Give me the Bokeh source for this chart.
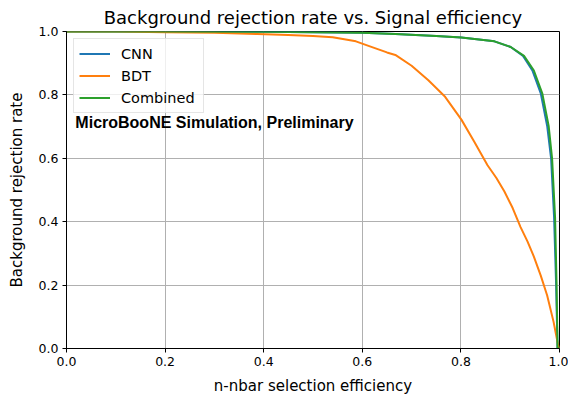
from bokeh.plotting import figure
from bokeh.models import FixedTicker, PrintfTickFormatter, Legend, LegendItem, Label, Range1d
from bokeh.embed import file_html
from bokeh.resources import INLINE

# --- data ---
bdt_x = [0.0, 0.1, 0.2, 0.3, 0.387, 0.45, 0.5, 0.54, 0.587, 0.614, 0.65, 0.667, 0.70, 0.734,
         0.768, 0.801, 0.828, 0.854, 0.872, 0.888, 0.905, 0.921, 0.935, 0.948, 0.962,
         0.975, 0.988, 0.997, 1.0]
bdt_y = [1.0, 1.0, 0.998, 0.996, 0.992, 0.989, 0.986, 0.982, 0.969, 0.954, 0.934, 0.926, 0.892,
         0.846, 0.794, 0.722, 0.650, 0.578, 0.538, 0.496, 0.443, 0.383, 0.338, 0.290, 0.230,
         0.167, 0.084, 0.012, 0.0]

comb_x = [0.0, 0.2, 0.4, 0.5, 0.6, 0.667, 0.75, 0.801, 0.868, 0.901, 0.928, 0.948, 0.965,
          0.978, 0.985, 0.991, 0.994, 0.996, 1.0]
comb_y = [1.0, 1.0, 0.999, 0.998, 0.996, 0.992, 0.986, 0.981, 0.969, 0.951, 0.923, 0.877, 0.805,
          0.702, 0.599, 0.414, 0.208, 0.002, 0.0]

cnn_x = [0.0, 0.2, 0.4, 0.5, 0.6, 0.667, 0.75, 0.801, 0.868, 0.901, 0.926, 0.945, 0.962,
         0.975, 0.983, 0.989, 0.993, 0.996, 1.0]
cnn_y = [1.0, 1.0, 0.999, 0.998, 0.996, 0.992, 0.986, 0.981, 0.969, 0.951, 0.923, 0.877, 0.805,
         0.702, 0.599, 0.414, 0.208, 0.002, 0.0]

ticks = [0.0, 0.2, 0.4, 0.6, 0.8, 1.0]
labels = ["CNN", "BDT", "Combined"]
colors = ["#1f77b4", "#ff7f0e", "#2ca02c"]

p = figure(width=568, height=397, output_backend="svg", toolbar_location=None,
           x_range=Range1d(0, 1), y_range=Range1d(0, 1),
           title="Background rejection rate vs. Signal efficiency",
           min_border_left=66, min_border_right=9, min_border_top=30, min_border_bottom=47)

p.title.align = "center"
p.title.text_font = "DejaVu Sans"
p.title.text_font_size = "18px"
p.title.text_font_style = "normal"
p.title.text_color = "black"
p.title.standoff = 8

p.outline_line_color = "black"
p.outline_line_width = 1
p.background_fill_color = "white"

for ax in (p.xaxis, p.yaxis):
    ax.ticker = FixedTicker(ticks=ticks)
    ax.formatter = PrintfTickFormatter(format="%.1f")
    ax.major_label_text_font = "DejaVu Sans"
    ax.major_label_text_font_size = "12.5px"
    ax.major_label_text_color = "black"
    ax.axis_label_text_font = "DejaVu Sans"
    ax.axis_label_text_font_size = "15px"
    ax.axis_label_text_font_style = "normal"
    ax.axis_label_text_color = "black"
    ax.minor_tick_line_color = None
    ax.major_tick_out = 4
    ax.major_tick_in = 0
    ax.axis_line_color = "black"
    ax.major_tick_line_color = "black"

p.xaxis.axis_label = "n-nbar selection efficiency"
p.yaxis.axis_label = "Background rejection rate"
p.xaxis.major_label_standoff = 4
p.yaxis.major_label_standoff = 4
p.xaxis.axis_label_standoff = 8
p.yaxis.axis_label_standoff = 10

p.xgrid.grid_line_color = "#b0b0b0"
p.ygrid.grid_line_color = "#b0b0b0"
p.xgrid.grid_line_width = 1
p.ygrid.grid_line_width = 1

r_cnn = p.line(cnn_x, cnn_y, color=colors[0], line_width=2)
r_bdt = p.line(bdt_x, bdt_y, color=colors[1], line_width=2)
r_comb = p.line(comb_x, comb_y, color=colors[2], line_width=2)

legend = Legend(items=[LegendItem(label=labels[0], renderers=[r_cnn]),
                       LegendItem(label=labels[1], renderers=[r_bdt]),
                       LegendItem(label=labels[2], renderers=[r_comb])],
                location="top_left")
legend.margin = 7
legend.padding = 5
legend.spacing = 3
legend.label_height = 19
legend.glyph_height = 19
legend.glyph_width = 31
legend.label_width = 77
legend.label_standoff = 11
legend.label_text_font = "DejaVu Sans"
legend.label_text_font_size = "14.5px"
legend.label_text_color = "black"
legend.border_line_color = "#cccccc"
legend.border_line_width = 1
legend.background_fill_alpha = 0.8
p.add_layout(legend)

note = Label(x=0.018, y=0.713, text="MicroBooNE Simulation, Preliminary",
             text_font="Liberation Sans", text_font_style="bold", text_font_size="16px",
             text_baseline="middle", text_align="left", text_color="black")
p.add_layout(note)

open("out.html", "w").write(file_html(p, INLINE))
